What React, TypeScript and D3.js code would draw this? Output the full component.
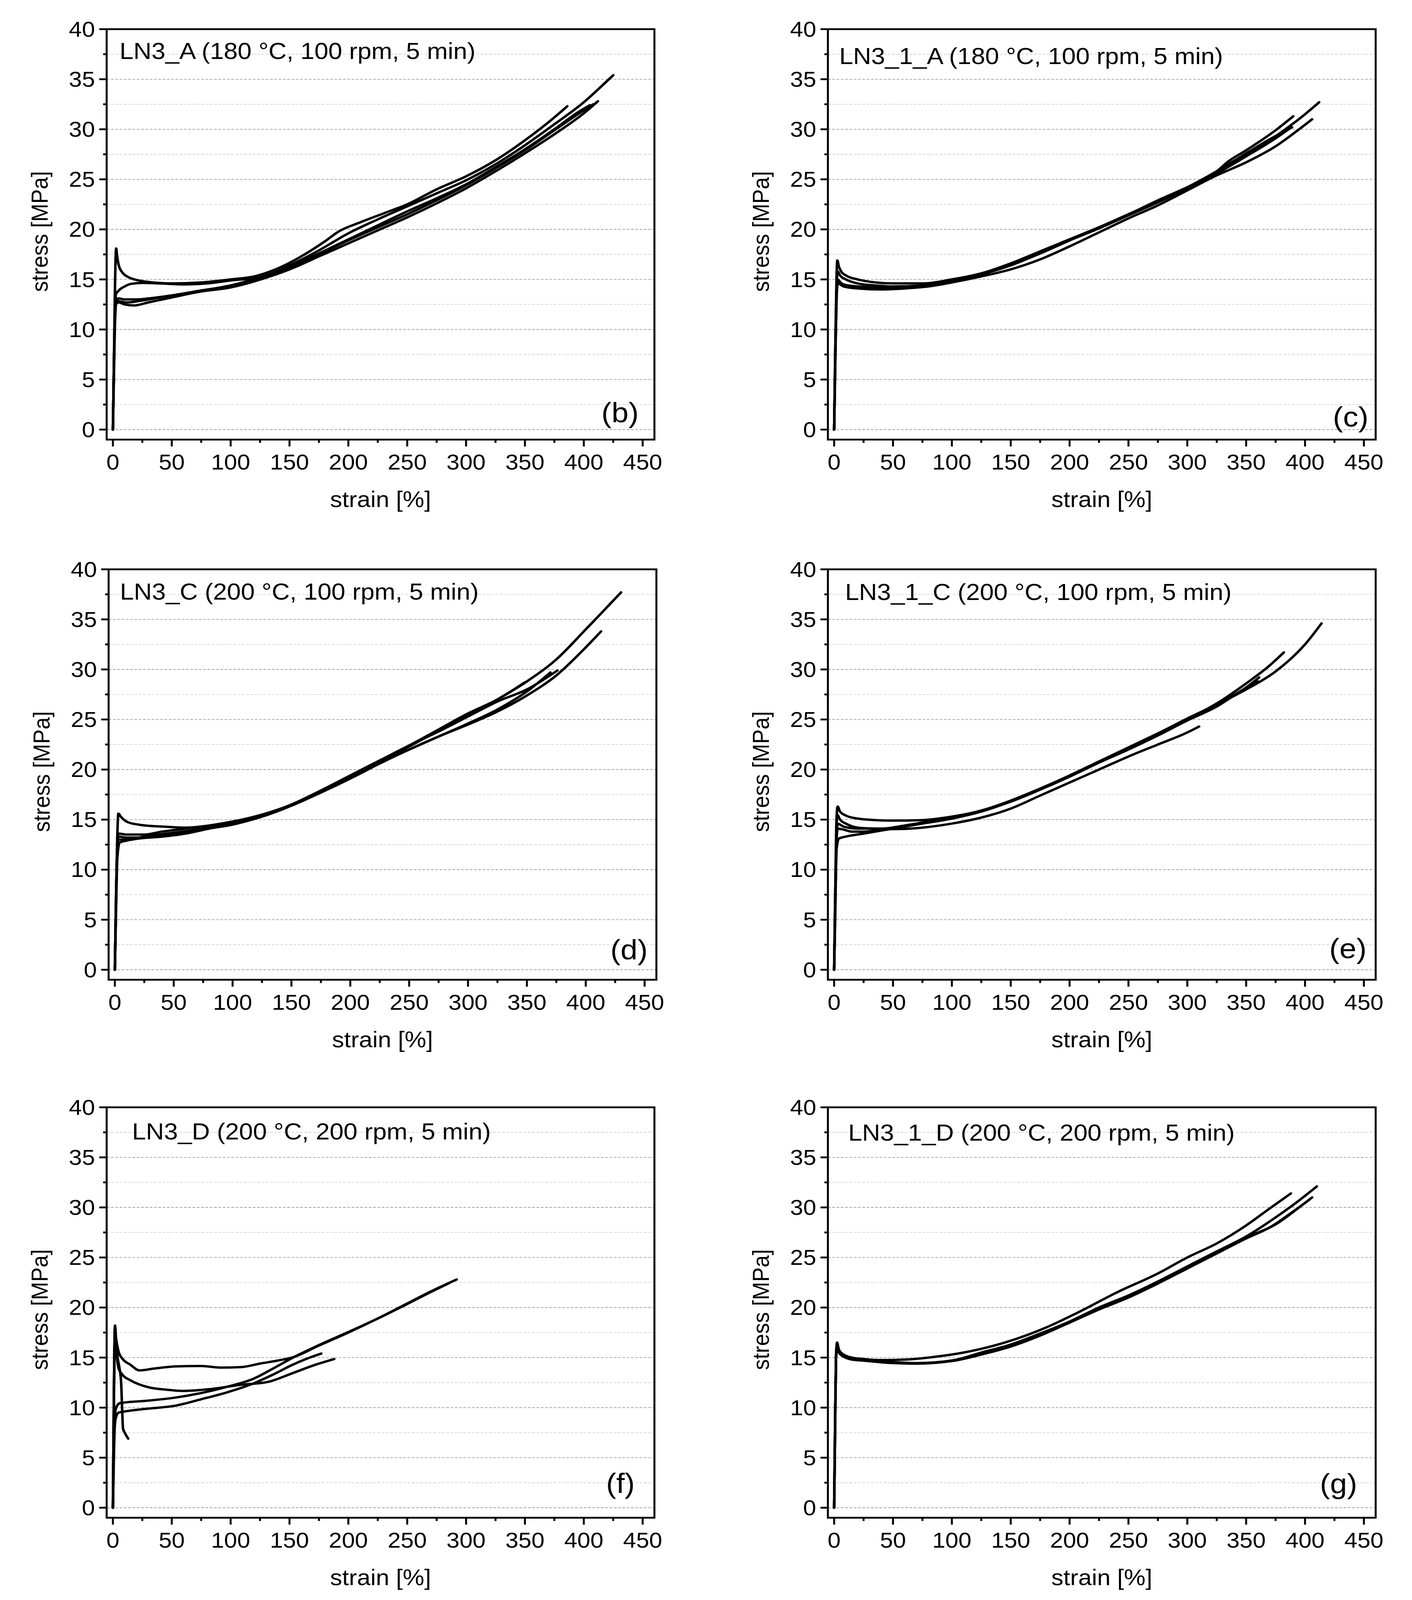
import React, { useEffect } from "react";
import * as d3 from "d3";

type Pt = [number, number];

// ---- data: [strain %, stress MPa] ----

// (b) LN3_A
const b1: Pt[] = [[0,0],[0.8,6],[1.6,13],[2.4,17.5],[2.8,18.1],[3.5,17.4],[5,16.4],[8,15.7],[12,15.3],[20,14.95],[30,14.75],[50,14.6],[75,14.7],[100,15.0],[120,15.3],[140,16.1],[160,17.3],[180,18.8],[192,19.8],[210,20.7],[230,21.6],[250,22.5],[275,24.0],[300,25.3],[325,26.9],[350,28.9],[370,30.7],[386,32.3]];
const b2: Pt[] = [[0,0],[0.8,6],[1.6,11],[2.5,13.5],[5,13.9],[10,14.3],[15,14.55],[25,14.65],[40,14.6],[60,14.5],[80,14.6],[100,14.9],[125,15.2],[150,16.4],[175,17.9],[200,19.6],[225,21.0],[250,22.3],[275,23.6],[300,24.9],[325,26.5],[350,28.4],[375,30.5],[400,32.7],[415,34.3],[425,35.4]];
const b3: Pt[] = [[0,0],[0.8,6],[1.6,11],[2.5,13.0],[5,13.1],[10,13.0],[20,13.0],[30,13.1],[50,13.4],[75,13.8],[100,14.3],[125,15.0],[150,16.0],[175,17.3],[200,18.6],[225,19.9],[250,21.2],[275,22.6],[300,24.1],[325,25.8],[350,27.6],[375,29.5],[400,31.6],[412,32.8]];
const b4: Pt[] = [[0,0],[0.8,5],[1.6,10],[2.8,12.6],[5,12.7],[10,12.5],[18,12.4],[30,12.7],[50,13.2],[75,13.8],[100,14.2],[120,14.8],[150,16.1],[175,17.5],[200,18.9],[225,20.2],[250,21.5],[275,22.9],[300,24.4],[325,26.1],[350,27.9],[375,29.9],[400,31.9],[408,32.5]];
const b5: Pt[] = [[0,0],[0.8,6],[1.6,11],[3,12.9],[6,12.8],[12,12.7],[25,12.9],[45,13.3],[70,13.8],[100,14.4],[125,15.2],[150,16.3],[175,17.6],[200,19.0],[225,20.4],[250,21.8],[275,23.1],[300,24.5],[325,26.2],[350,28.0],[375,30.0],[395,31.7],[405,32.4]];

// (c) LN3_1_A
const c1: Pt[] = [[0,0],[1,8],[2,15],[2.7,16.9],[4,16.3],[6,15.8],[10,15.4],[20,15.0],[35,14.7],[50,14.6],[75,14.6],[100,15.0],[125,15.6],[150,16.5],[175,17.6],[200,18.9],[225,20.1],[250,21.4],[275,22.7],[300,24.1],[325,25.7],[350,27.4],[375,29.3],[400,31.5],[412,32.7]];
const c2: Pt[] = [[0,0],[1,8],[2,14],[3,15.8],[5,15.4],[10,15.0],[20,14.6],[35,14.4],[50,14.3],[75,14.4],[100,14.9],[125,15.6],[150,16.6],[175,17.8],[200,19.0],[225,20.2],[250,21.5],[275,22.8],[300,24.2],[325,25.8],[335,26.8],[350,27.9],[375,29.9],[390,31.3]];
const c3: Pt[] = [[0,0],[1,8],[2,13.5],[3,15.0],[6,14.6],[10,14.4],[20,14.2],[40,14.1],[60,14.2],[80,14.4],[100,14.8],[125,15.5],[150,16.5],[175,17.7],[200,19.0],[225,20.2],[250,21.5],[275,22.8],[300,24.2],[325,25.8],[350,27.6],[370,29.0],[389,30.2]];
const c4: Pt[] = [[0,0],[1,7],[2,13],[3,14.6],[8,14.3],[20,14.1],[40,14.0],[60,14.1],[80,14.3],[100,14.7],[125,15.3],[150,16.0],[175,17.0],[200,18.3],[225,19.7],[250,21.1],[275,22.4],[300,23.9],[325,25.4],[350,26.7],[375,28.3],[395,30.0],[406,31.0]];
const c5: Pt[] = [[0,0],[1,7],[2,13],[3,14.8],[8,14.5],[20,14.3],[40,14.2],[60,14.2],[80,14.4],[100,14.8],[125,15.5],[150,16.4],[175,17.6],[200,18.9],[225,20.2],[250,21.5],[275,22.9],[300,24.2],[325,25.6],[350,27.3],[375,29.1],[386,30.0]];

// (d) LN3_C
const d1: Pt[] = [[0,0],[1,7],[2,13],[3,15.6],[5,15.3],[10,14.8],[20,14.5],[40,14.3],[60,14.2],[80,14.4],[100,14.8],[125,15.5],[150,16.5],[175,17.9],[200,19.4],[225,20.8],[250,22.3],[275,23.9],[300,25.4],[325,27.0],[350,28.8],[375,31.0],[400,34.0],[430,37.7]];
const d2: Pt[] = [[0,0],[1,7],[2,12],[3,13.6],[10,13.5],[25,13.5],[40,13.8],[60,14.1],[80,14.4],[100,14.8],[125,15.4],[150,16.4],[175,17.7],[200,19.1],[225,20.6],[250,22.0],[275,23.3],[300,24.5],[325,25.8],[350,27.4],[375,29.4],[400,32.2],[413,33.8]];
const d3v: Pt[] = [[0,0],[1,7],[2,12],[3,13.3],[10,13.2],[25,13.2],[40,13.4],[60,13.8],[80,14.3],[100,14.7],[125,15.4],[150,16.5],[175,17.9],[200,19.4],[225,20.9],[250,22.4],[275,23.8],[300,25.3],[325,26.8],[350,28.0],[376,29.9]];
const d4: Pt[] = [[0,0],[1,6],[2,11],[4,12.7],[10,12.9],[20,13.1],[40,13.3],[60,13.6],[80,14.1],[100,14.5],[125,15.3],[150,16.4],[175,17.8],[200,19.2],[225,20.7],[250,22.0],[275,23.3],[300,24.6],[325,26.0],[350,27.8],[370,29.7]];
const d5: Pt[] = [[0,0],[1,7],[2,12],[3,13.0],[10,13.0],[25,13.3],[50,13.7],[75,14.1],[100,14.6],[125,15.3],[150,16.4],[175,17.8],[200,19.4],[225,20.9],[250,22.4],[275,24.0],[300,25.6],[325,27.0],[348,28.7]];

// (e) LN3_1_C
const e1: Pt[] = [[0,0],[1,8],[2,15],[3,16.3],[5,15.8],[10,15.4],[20,15.1],[35,14.95],[50,14.9],[75,14.95],[100,15.3],[125,15.9],[150,16.9],[175,18.1],[200,19.4],[225,20.8],[250,22.2],[275,23.6],[300,25.1],[325,26.5],[350,28.0],[375,29.8],[400,32.5],[414,34.6]];
const e2: Pt[] = [[0,0],[1,8],[2,14],[2.5,15.5],[5,15.0],[10,14.6],[20,14.2],[35,14.1],[50,14.05],[75,14.2],[100,14.6],[125,15.2],[150,16.1],[175,17.4],[200,18.7],[225,20.0],[250,21.3],[275,22.5],[300,23.7],[310,24.3]];
const e3: Pt[] = [[0,0],[1,7],[2,13],[3,14.1],[8,14.0],[15,13.8],[25,13.8],[40,14.0],[60,14.4],[80,14.8],[100,15.2],[125,15.9],[150,16.8],[175,18.0],[200,19.4],[225,20.8],[250,22.2],[275,23.6],[300,25.0],[325,26.6],[350,28.6],[370,30.4],[382,31.7]];
const e4: Pt[] = [[0,0],[1,6],[2,12],[4,13.1],[10,13.3],[25,13.6],[45,14.0],[75,14.6],[100,15.1],[125,15.8],[150,16.8],[175,18.0],[200,19.3],[225,20.7],[250,22.1],[275,23.5],[300,25.0],[325,26.5],[350,28.2],[361,29.2]];
const e5: Pt[] = [[0,0],[1,7],[2,13],[3,14.6],[8,14.3],[20,14.1],[40,14.1],[60,14.4],[80,14.8],[100,15.2],[125,15.9],[150,16.8],[175,18.0],[200,19.3],[225,20.7],[250,22.0],[275,23.4],[300,24.9],[325,26.3],[345,27.8],[360,28.8]];

// (f) LN3_D
const f1: Pt[] = [[0,0],[0.6,8],[1.2,15],[1.8,18.2],[2.6,17],[3.5,16.3],[4.8,15.6],[8,14.9],[14.7,14.3],[22.5,13.72],[35,13.9],[53,14.12],[75,14.16],[92,14.0],[109,14.05],[125,14.4],[140,14.7],[153,15.03],[175,16.2],[200,17.5],[225,18.9],[250,20.4],[270,21.6],[292,22.8]];
const f2: Pt[] = [[0,0],[0.6,8],[1.2,15],[1.8,18.0],[2.6,16.2],[3.5,14.9],[4.8,13.94],[8,13.3],[14.7,12.74],[31,12.01],[45,11.8],[59,11.67],[81,11.83],[109,12.28],[131,12.55],[153,13.46],[170,14.2],[188,14.85]];
const f3: Pt[] = [[0,0],[0.6,5],[1.2,8.5],[2,9.6],[3.6,10.2],[6,10.45],[9.2,10.5],[30,10.7],[53,11.0],[75.5,11.47],[97.6,12.1],[119.7,12.9],[136,13.9],[153,15.0],[175,16.25],[200,17.55],[225,18.9],[250,20.35],[270,21.55],[285,22.4]];
const f4: Pt[] = [[0,0],[0.8,5],[1.5,8],[2.5,9.0],[4.8,9.5],[9.2,9.6],[30,9.9],[53.4,10.2],[75.5,10.85],[97.6,11.55],[119.7,12.43],[136,13.3],[153,14.3],[165,14.9],[177,15.4]];
const f5: Pt[] = [[0,0],[0.6,8],[1.2,15],[1.8,18.0],[2.5,16.8],[4,15.0],[5.5,14.0],[7,12.5],[7.8,10],[8.6,7.9],[10.5,7.4],[13,6.9]];

// (g) LN3_1_D
const g1: Pt[] = [[0,0],[0.8,8],[1.6,15],[2.5,16.5],[4,15.8],[8,15.3],[15,15.0],[25,14.85],[40,14.75],[60,14.8],[80,15.0],[110,15.5],[145,16.5],[180,18.0],[207,19.5],[240,21.5],[275,23.4],[300,25.0],[325,26.4],[350,28.2],[370,29.9],[388,31.4]];
const g2: Pt[] = [[0,0],[0.8,8],[1.6,15],[2.5,16.4],[4,15.7],[8,15.2],[15,14.9],[25,14.75],[50,14.55],[70,14.45],[100,14.7],[125,15.5],[150,16.3],[175,17.4],[200,18.6],[225,20.0],[250,21.2],[275,22.6],[300,24.1],[325,25.6],[350,27.1],[375,29.0],[395,30.7],[410,32.1]];
const g3: Pt[] = [[0,0],[0.8,8],[1.6,15],[2.5,16.3],[4,15.6],[8,15.1],[15,14.85],[25,14.7],[50,14.5],[70,14.4],[100,14.7],[125,15.4],[150,16.2],[175,17.3],[200,18.5],[225,19.9],[250,21.1],[275,22.5],[300,24.0],[325,25.5],[350,27.0],[375,28.3],[395,30.0],[406,31.0]];
const g4: Pt[] = [[0,0],[0.8,8],[1.6,15],[2.5,16.2],[4,15.5],[8,15.1],[15,14.8],[25,14.7],[50,14.45],[70,14.4],[100,14.65],[125,15.3],[150,16.1],[175,17.2],[200,18.5],[225,19.8],[250,21.0],[275,22.4],[300,23.9],[325,25.4],[350,26.9],[370,28.0],[390,29.6],[404,30.8]];

const titles = [
  "LN3_A (180 °C, 100 rpm, 5 min)",
  "LN3_1_A (180 °C, 100 rpm, 5 min)",
  "LN3_C (200 °C, 100 rpm, 5 min)",
  "LN3_1_C (200 °C, 100 rpm, 5 min)",
  "LN3_D (200 °C, 200 rpm, 5 min)",
  "LN3_1_D (200 °C, 200 rpm, 5 min)",
];
const panelLabels = ["(b)", "(c)", "(d)", "(e)", "(f)", "(g)"];
const xTicks = [0, 50, 100, 150, 200, 250, 300, 350, 400, 450];
const yTicks = [0, 5, 10, 15, 20, 25, 30, 35, 40];
const xMinor = d3.range(25, 460, 50);
const yMinor = d3.range(2.5, 40, 5);

// ---- layout (in reference pixels; the svg is stretched to the viewport) ----
const W = 3614;
const H = 4415;
const PW = 1402;
const PH = 1132.5;
const FONT = "'Liberation Sans', Arial, Helvetica, sans-serif";

const panels = [
  { curves: [b1, b2, b3, b4, b5], left: 273, top: 80.5, tdx: 33, tcy: 60, lx: 1587, ly: 1138 },
  { curves: [c1, c2, c3, c4, c5], left: 2119, top: 80.5, tdx: 29, tcy: 74, lx: 3457, ly: 1150 },
  { curves: [d1, d2, d3v, d4, d5], left: 278, top: 1571, tdx: 29, tcy: 61, lx: 1610, ly: 2620 },
  { curves: [e1, e2, e3, e4, e5], left: 2119, top: 1571, tdx: 44, tcy: 62, lx: 3450, ly: 2617 },
  { curves: [f1, f2, f3, f4, f5], left: 273, top: 3055.5, tdx: 65, tcy: 66, lx: 1588, ly: 4093 },
  { curves: [g1, g2, g3, g4], left: 2119, top: 3055.5, tdx: 52, tcy: 70, lx: 3426, ly: 4094 },
];

type PanelDef = (typeof panels)[number];

const Panel: React.FC<{ p: PanelDef; title: string; label: string }> = ({ p, title, label }) => {
  const x = d3.scaleLinear().domain([-5.3, 460]).range([p.left, p.left + PW]);
  const y = d3.scaleLinear().domain([-1, 40]).range([p.top + PH, p.top]);
  const line = d3
    .line<Pt>()
    .x((d) => x(d[0]))
    .y((d) => y(d[1]))
    .curve(d3.curveMonotoneX);
  const bottom = p.top + PH;
  const right = p.left + PW;

  return (
    <g>
      {/* grid */}
      {yMinor.map((v) => (
        <line key={"gm" + v} x1={p.left} x2={right} y1={y(v)} y2={y(v)} stroke="#d4d4d4" strokeWidth={2} strokeDasharray="7,4" />
      ))}
      {yTicks.slice(0, -1).map((v) => (
        <line key={"gM" + v} x1={p.left} x2={right} y1={y(v)} y2={y(v)} stroke="#a3a3a3" strokeWidth={2} strokeDasharray="7,4" />
      ))}

      {/* curves */}
      {p.curves.map((c, i) => (
        <path key={i} d={line(c) || ""} fill="none" stroke="#000" strokeWidth={6.5} strokeLinejoin="round" strokeLinecap="round" />
      ))}

      {/* frame */}
      <rect x={p.left} y={p.top} width={PW} height={PH} fill="none" stroke="#000" strokeWidth={5} />

      {/* y ticks */}
      {yTicks.map((v) => (
        <g key={"yt" + v}>
          <line x1={p.left - 19} x2={p.left} y1={y(v)} y2={y(v)} stroke="#000" strokeWidth={5} />
          <text x={p.left - 30} y={y(v)} textAnchor="end" dominantBaseline="central" fontSize={60} fontFamily={FONT}>
            {v}
          </text>
        </g>
      ))}
      {yMinor.map((v) => (
        <line key={"ym" + v} x1={p.left - 9} x2={p.left} y1={y(v)} y2={y(v)} stroke="#000" strokeWidth={5} />
      ))}

      {/* x ticks */}
      {xTicks.map((v) => (
        <g key={"xt" + v}>
          <line x1={x(v)} x2={x(v)} y1={bottom} y2={bottom + 19} stroke="#000" strokeWidth={5} />
          <text x={x(v)} y={bottom + 83} textAnchor="middle" fontSize={60} fontFamily={FONT}>
            {v}
          </text>
        </g>
      ))}
      {xMinor.map((v) => (
        <line key={"xm" + v} x1={x(v)} x2={x(v)} y1={bottom} y2={bottom + 9} stroke="#000" strokeWidth={5} />
      ))}

      {/* axis titles */}
      <text
        x={(p.left + right) / 2}
        y={bottom + 165}
        textAnchor="middle"
        dominantBaseline="central"
        fontSize={62}
        fontFamily={FONT}
      >
        strain [%]
      </text>
      <text
        transform={`translate(${p.left - 172},${p.top + PH / 2 - 8}) rotate(-90)`}
        textAnchor="middle"
        dominantBaseline="central"
        fontSize={60}
        fontFamily={FONT}
      >
        stress [MPa]
      </text>

      {/* panel title and letter */}
      <text x={p.left + p.tdx} y={p.top + p.tcy} dominantBaseline="central" fontSize={64} fontFamily={FONT}>
        {title}
      </text>
      <text x={p.lx} y={p.ly} textAnchor="middle" dominantBaseline="central" fontSize={78} fontFamily={FONT}>
        {label}
      </text>
    </g>
  );
};

export default function App() {
  useEffect(() => {
    document.body.style.margin = "0";
    document.body.style.overflow = "hidden";
  }, []);

  return (
    <svg
      viewBox={`0 0 ${W} ${H}`}
      preserveAspectRatio="none"
      style={{ position: "fixed", left: 0, top: 0, width: "100vw", height: "100vh", display: "block", background: "#fff" }}
    >
      <rect width={W} height={H} fill="#fff" />
      {panels.map((p, i) => (
        <Panel key={i} p={p} title={titles[i]} label={panelLabels[i]} />
      ))}
    </svg>
  );
}
